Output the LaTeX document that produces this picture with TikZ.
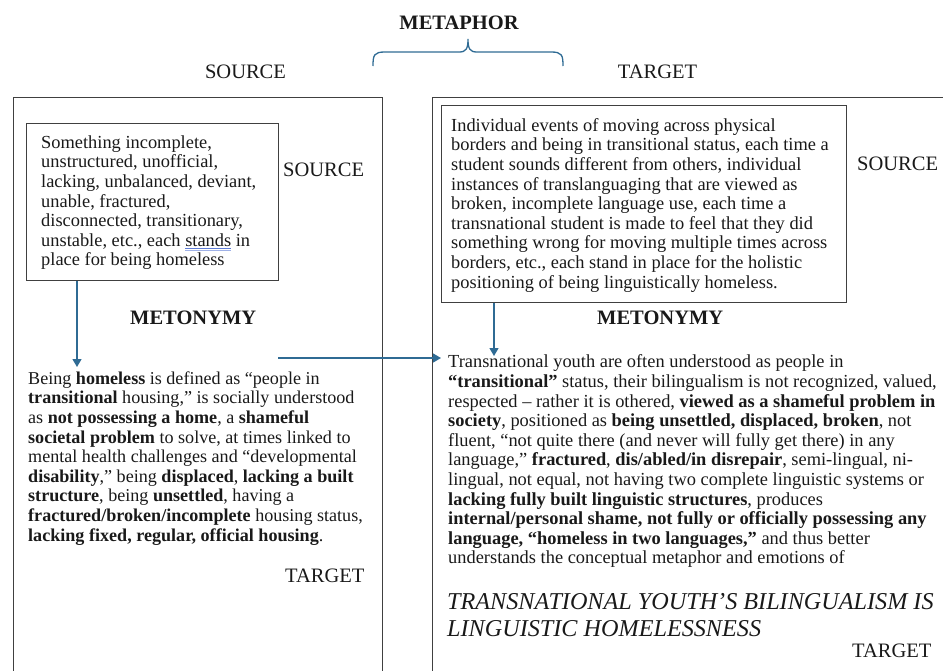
\documentclass[tikz,border=0pt]{standalone}
\usepackage{fontspec}
\setmainfont{Liberation Serif}
\usetikzlibrary{arrows.meta}
\definecolor{blueline}{RGB}{47,107,148}
\definecolor{boxline}{RGB}{64,64,64}
\definecolor{ulblue}{RGB}{95,125,215}
\definecolor{txt}{RGB}{25,25,25}
\newcommand\spellul[1]{\setbox0\hbox{#1}\rlap{\color{ulblue}\rule[-2.8pt]{\wd0}{0.6pt}}\rlap{\color{ulblue!60}\rule[-4.2pt]{\wd0}{0.5pt}}\box0\relax}
\newcommand\fst{\rule{0pt}{14pt}}
\tikzset{
  frame/.style={draw=boxline, line width=1.3pt, inner sep=0pt, anchor=north west},
  body/.style={text=txt, inner sep=0pt, anchor=north west, align=left, font=\fontsize{18.4}{19.6}\selectfont},
  bodyl/.style={body, font=\fontsize{18.1}{19.6}\selectfont},
  lbl/.style={text=txt, inner sep=0pt, font=\fontsize{20.5}{24}\selectfont},
  blbl/.style={text=txt, inner sep=0pt, font=\fontsize{20.5}{24}\selectfont\bfseries},
  arr/.style={draw=blueline, line width=1.3pt, -{Triangle[width=9pt,length=8pt]}},
  brace/.style={draw=blueline, line width=1.3pt}
}
\begin{document}
\begin{tikzpicture}[x=1pt,y=-1pt]
\useasboundingbox (0,0) rectangle (943,670);
\clip (0,0) rectangle (943,670);
% header
\node[blbl, anchor=base] (metaphor) at (459,29) {METAPHOR};
\node[lbl, anchor=base] (srctop) at (245.5,78) {SOURCE};
\node[lbl, anchor=base] (tgttop) at (657.5,78) {TARGET};
\coordinate (brL) at (373,66);
\coordinate (brM) at (468,39);
\coordinate (brR) at (563,66);
\draw[brace] (brL) .. controls (373,55) and (374,52) .. (385,52) -- (459,52)
  .. controls (466,52) and (468,49) .. (brM)
  .. controls (468,49) and (470,52) .. (477,52) -- (551,52)
  .. controls (562,52) and (563,55) .. (brR);
% outer frames
\node[frame, minimum width=369pt, minimum height=620pt] (leftframe) at (13,97) {};
\node[frame, minimum width=600pt, minimum height=620pt] (rightframe) at (432,97) {};
% inner source boxes
\node[frame, minimum width=252pt, minimum height=157pt] (innerL) at (26,123) {};
\node[frame, minimum width=405pt, minimum height=197pt] (innerR) at (441,105) {};
\node[body] (innerLtext) at (41,134) {\fst Something incomplete,\\
unstructured, unofficial,\\
lacking, unbalanced, deviant,\\
unable, fractured,\\
disconnected, transitionary,\\
unstable, etc., each \spellul{stands} in\\
place for being homeless};
\node[body] (innerRtext) at (451,117) {\fst Individual events of moving across physical\\
borders and being in transitional status, each time a\\
student sounds different from others, individual\\
instances of translanguaging that are viewed as\\
broken, incomplete language use, each time a\\
transnational student is made to feel that they did\\
something wrong for moving multiple times across\\
borders, etc., each stand in place for the holistic\\
positioning of being linguistically homeless.};
\node[lbl, anchor=base west] (srcL) at (283,176) {SOURCE};
\node[lbl, anchor=base west] (srcR) at (857,170.5) {SOURCE};
\node[blbl, anchor=base west] (metoL) at (130,324.5) {METONYMY};
\node[blbl, anchor=base west] (metoR) at (597,324) {METONYMY};
% target texts
\node[bodyl] (lowL) at (28,370) {\fst Being \textbf{homeless} is defined as “people in\\
\textbf{transitional} housing,” is socially understood\\
as \textbf{not possessing a home}, a \textbf{shameful}\\
\textbf{societal problem} to solve, at times linked to\\
mental health challenges and “developmental\\
\textbf{disability},” being \textbf{displaced}, \textbf{lacking a built}\\
\textbf{structure}, being \textbf{unsettled}, having a\\
\textbf{fractured/broken/incomplete} housing status,\\
\textbf{lacking fixed, regular, official housing}.};
\node[body] (lowR) at (448,353.7) {\fst Transnational youth are often understood as people in\\
\textbf{“transitional”} status, their bilingualism is not recognized, valued,\\
respected – rather it is othered, \textbf{viewed as a shameful problem in}\\
\textbf{society}, positioned as \textbf{being unsettled, displaced, broken}, not\\
fluent, “not quite there (and never will fully get there) in any\\
language,” \textbf{fractured}, \textbf{dis/abled/in disrepair}, semi-lingual, ni-\\
lingual, not equal, not having two complete linguistic systems or\\
\textbf{lacking fully built linguistic structures}, produces\\
\textbf{internal/personal shame, not fully or officially possessing any}\\
\textbf{language, “homeless in two languages,”} and thus better\\
understands the conceptual metaphor and emotions of};
\node[text=txt, inner sep=0pt, anchor=north west, align=left, font=\fontsize{24.2}{27.5}\selectfont\itshape] (title) at (447,590) {\rule{0pt}{19pt}TRANSNATIONAL YOUTH’S BILINGUALISM IS\\
LINGUISTIC HOMELESSNESS};
\node[lbl, anchor=base west] (tgtL) at (285,582) {TARGET};
\node[lbl, anchor=base west] (tgtR) at (852,657) {TARGET};
% arrows
\coordinate (a1end) at (77,367);
\coordinate (a2start) at (278,358);
\coordinate (a2end) at (441,358);
\coordinate (a3end) at (494,356);
\draw[arr] (innerL.south -| a1end) -- (a1end);
\draw[arr] (a2start) -- (a2end);
\draw[arr] (innerR.south -| a3end) -- (a3end);
\end{tikzpicture}
\end{document}
